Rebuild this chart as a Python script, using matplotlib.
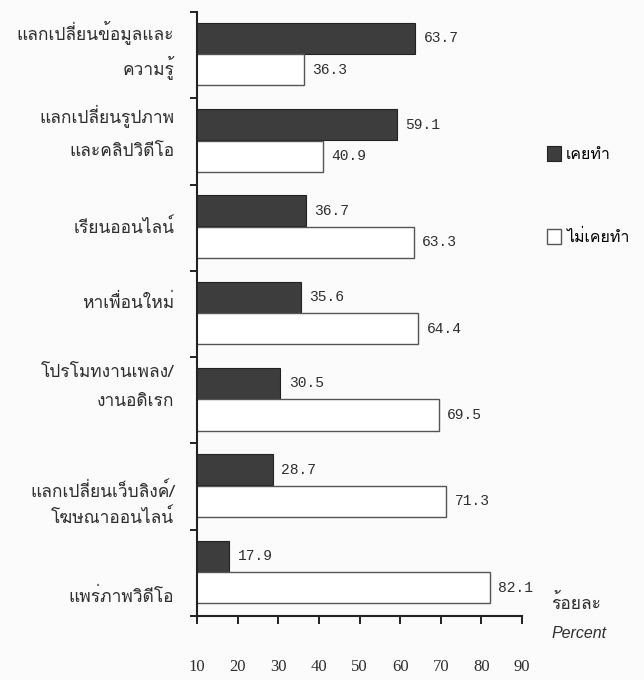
import matplotlib
matplotlib.use("Agg")
import matplotlib.pyplot as plt
import numpy as np
from matplotlib.patches import Patch

# Online activities of respondents (percent)
categories = [
    ["แลกเปลี่ยนข้อมูลและ", "ความรู้"],
    ["แลกเปลี่ยนรูปภาพ", "และคลิปวิดีโอ"],
    ["เรียนออนไลน์"],
    ["หาเพื่อนใหม่"],
    ["โปรโมทงานเพลง/", "งานอดิเรก"],
    ["แลกเปลี่ยนเว็บลิงค์/", "โฆษณาออนไลน์"],
    ["แพร่ภาพวิดีโอ"],
]
done = [63.7, 59.1, 36.7, 35.6, 30.5, 28.7, 17.9]
never = [36.3, 40.9, 63.3, 64.4, 69.5, 71.3, 82.1]
series_labels = ["เคยทำ", "ไม่เคยทำ"]
x_ticks = [10, 20, 30, 40, 50, 60, 70, 80, 90]

# vertical placement of the category captions inside each group (fraction of group)
label_rows = [[0.23, 0.64], [0.21, 0.62], [0.50], [0.37], [0.18, 0.52], [0.56, 0.86], [0.78]]

THAI = ["Loma", "DejaVu Sans"]
INK = "#2e2e2e"
DARK = "#3d3d3d"

fig = plt.figure(figsize=(6.44, 6.8), dpi=100, facecolor="#fbfbfb")
ax = fig.add_axes([0.306, 0.0941, 0.5047, 0.8882])
ax.set_facecolor("none")

n = len(done)
idx = np.arange(n)
h = 0.36
ax.barh(idx + 0.305, done, height=h, color=DARK, edgecolor="#222222", linewidth=0.8)
ax.barh(idx + 0.67, never, height=h, color="white", edgecolor="#555555", linewidth=1.0)

for i in range(n):
    ax.annotate(f"{done[i]:.1f}", (done[i], i + 0.305), xytext=(6, 0),
                textcoords="offset points", va="center", ha="left",
                family="Liberation Mono", fontsize=10.5, color=INK)
    ax.annotate(f"{never[i]:.1f}", (never[i], i + 0.67), xytext=(6, 0),
                textcoords="offset points", va="center", ha="left",
                family="Liberation Mono", fontsize=10.5, color=INK)
    for line, frac in zip(categories[i], label_rows[i]):
        ax.text(-0.07, i + frac, line, transform=ax.get_yaxis_transform(),
                ha="right", va="center", family=THAI, fontsize=12.5, color=INK)

ax.set_xlim(10, 90)
ax.set_ylim(n, 0)
ax.set_xticks(x_ticks)
ax.set_xticklabels([str(t) for t in x_ticks], family="Liberation Serif", fontsize=12, color=INK)
ax.tick_params(axis="x", direction="out", length=6, width=1.4, pad=25, colors="#222222", labelcolor=INK)
ax.set_yticks(np.arange(n + 1))
ax.set_yticklabels([])
ax.tick_params(axis="y", direction="out", length=5, width=1.4, colors="#222222")

for s in ("top", "right"):
    ax.spines[s].set_visible(False)
for s in ("left", "bottom"):
    ax.spines[s].set_linewidth(1.5)
    ax.spines[s].set_color("#222222")

handles = [Patch(facecolor=DARK, edgecolor="#222222", linewidth=0.8),
           Patch(facecolor="white", edgecolor="#555555", linewidth=1.0)]
fig.legend(handles, series_labels, loc="upper left", bbox_to_anchor=(0.849, 0.786),
           frameon=False, prop={"family": THAI, "size": 11.5}, handlelength=0.9,
           handleheight=1.1, handletextpad=0.3, labelspacing=4.15, borderpad=0, borderaxespad=0)

fig.text(0.856, 0.113, "ร้อยละ", family=THAI, fontsize=12.5, color=INK, va="center", ha="left")
fig.text(0.856, 0.069, "Percent", family="Liberation Sans", style="italic", fontsize=11.5,
         color=INK, va="center", ha="left")

fig.savefig("out.png", dpi=100, facecolor=fig.get_facecolor())
